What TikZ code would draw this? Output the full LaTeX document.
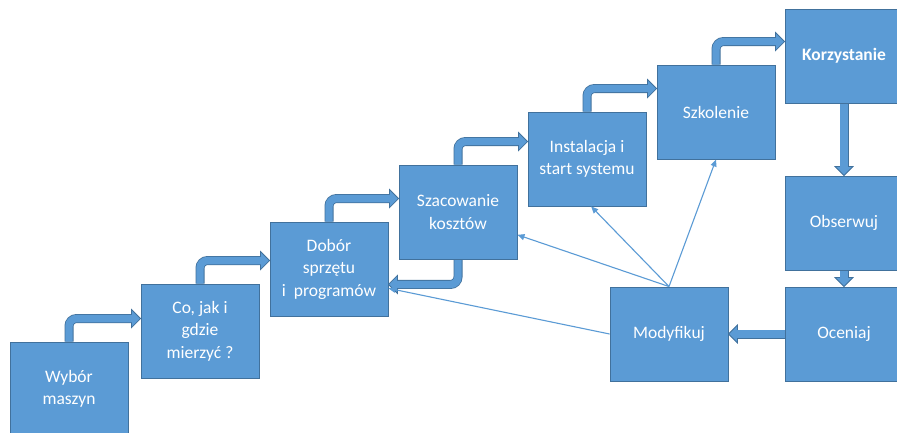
\documentclass[tikz,border=0pt]{standalone}
\usepackage{fontspec}
\setmainfont{Carlito}
\usetikzlibrary{calc,arrows.meta}
\definecolor{boxfill}{HTML}{5B9BD5}
\definecolor{boxline}{HTML}{41719C}
\pgfdeclarelayer{back}
\pgfdeclarelayer{mid}
\pgfsetlayers{back,mid,main}

\tikzset{
  stage/.style={draw=boxline, fill=boxfill, line width=0.9pt,
    minimum width=118pt, minimum height=94pt, inner sep=2pt,
    align=center, text=white, font=\fontsize{17.5}{22.5}\selectfont},
  shaftout/.style={draw=boxline, line width=9pt, rounded corners=7.5pt},
  shaftin/.style={draw=boxfill, line width=7.4pt, rounded corners=7.5pt},
  headstyle/.style={fill=boxfill, draw=boxline, line width=0.8pt, line join=miter},
  link/.style={draw=boxfill, line width=1.1pt, -{Triangle[length=7pt,width=6pt]}},
}

% Block arrow with outline: #1 start, #2 path operation, #3 tip, #4 direction at the tip
\newcommand\blockarrow[4]{%
  \coordinate (ba-t) at #3;
  \coordinate (ba-b) at ($(ba-t)+(#4:-9)$);
  \coordinate (ba-e) at ($(ba-t)+(#4:-7.8)$);
  \coordinate (ba-f) at ($(ba-t)+(#4:-8.4)$);
  \draw[shaftout] #1 #2 (ba-f);
  \filldraw[headstyle] ($(ba-b)+(#4+90:9)$) -- (ba-t) -- ($(ba-b)+(#4-90:9)$) -- cycle;
  \draw[shaftin] #1 #2 (ba-e);
}

\begin{document}
\begin{tikzpicture}[x=1pt,y=-1pt]
\begin{pgfonlayer}{back}
  \fill[white] (0,0) rectangle (897,433);
\end{pgfonlayer}
\useasboundingbox (0,0) rectangle (897,433);

% stages
\node[stage] (b1) at (69,389) {Wybór\\maszyn};
\node[stage] (b2) at (200,331) {Co, jak i\\gdzie\\mierzyć ?};
\node[stage] (b3) at (329,269) {Dobór\\sprzętu\\i\ \ programów};
\node[stage] (b4) at (458,212) {Szacowanie\\kosztów};
\node[stage] (b5) at (587,159) {Instalacja i\\start systemu};
\node[stage] (b6) at (716,112) {Szkolenie};
\node[stage] (b7) at (844,56) {\textbf{Korzystanie}};
\node[stage] (b8) at (844,223) {Obserwuj};
\node[stage] (b9) at (844,334) {Oceniaj};
\node[stage] (b10) at (669,334) {Modyfikuj};

% block arrows beneath the stages
\begin{pgfonlayer}{mid}
  \foreach \s/\t in {b1/b2,b2/b3,b3/b4,b4/b5,b5/b6,b6/b7}{
    \coordinate (turn) at ($(\s.north)+(0,-23)$);
    \blockarrow{(\s.north)}{|-}{(\t.west |- turn)}{0}
  }
  \coordinate (ret) at ($(b4.south)+(0,25)$);
  \blockarrow{(b4.south)}{|-}{(b3.east |- ret)}{180}
  \blockarrow{(b7.south)}{--}{(b8.north)}{90}
  \blockarrow{(b8.south)}{--}{(b9.north)}{90}
  \blockarrow{(b9.west)}{--}{(b10.east)}{180}
\end{pgfonlayer}

% feedback links from the modification step
\draw[link] (b10.north) -- (b4.-21);
\draw[link] (b10.north) -- (b5.-85);
\draw[link] (b10.north) -- (b6.south);
\draw[link] (b10.west) -- (b3.-18);
\end{tikzpicture}
\end{document}
